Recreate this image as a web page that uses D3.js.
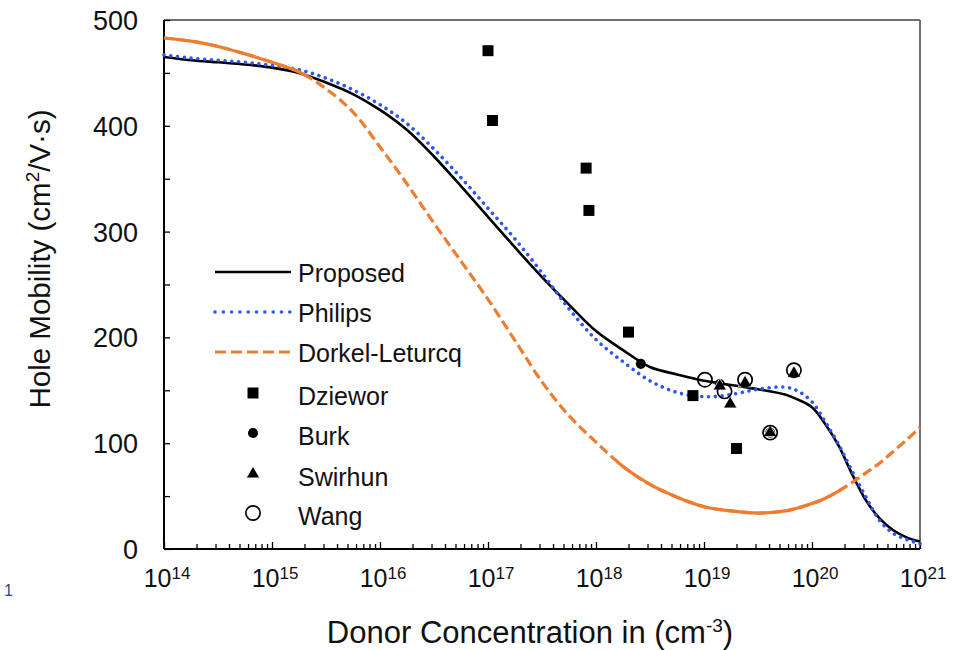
<!DOCTYPE html>
<html>
<head>
<meta charset="utf-8">
<script src="https://cdn.jsdelivr.net/npm/d3@7/dist/d3.min.js"></script>
<style>
  html, body { margin: 0; padding: 0; background: #fff; }
  svg { display: block; font-family: "Liberation Sans", Arial, Helvetica, sans-serif; }
</style>
</head>
<body>
<svg id="chart" width="953" height="650"></svg>
<script>
// ---------------- data ----------------
const concentration = [
  1e14, 1.78e14, 3.16e14, 5.62e14,
  1e15, 1.78e15, 3.16e15, 5.62e15,
  1e16, 1.78e16, 3.16e16, 5.62e16,
  1e17, 1.78e17, 3.16e17, 5.62e17,
  1e18, 1.78e18, 3.16e18, 5.62e18,
  1e19, 1.78e19, 3.16e19, 5.62e19, 7.5e19,
  1e20, 1.33e20, 1.78e20, 2.37e20, 3.16e20, 4.22e20, 5.62e20, 7.5e20, 1e21
];
const proposed = [
  465, 462, 460, 458,
  455, 450, 441, 430,
  415, 396, 371, 343,
  314, 285, 257, 231,
  206, 188, 172, 165,
  159, 155, 151, 146, 141,
  134, 118, 97, 70, 46, 29, 18, 11, 7
];
const philips = [
  467, 464, 462, 460,
  457, 453, 445, 434,
  420, 402, 378, 351,
  322, 293, 261, 227,
  198, 177, 159, 148,
  144, 146, 151, 153, 149,
  139, 120, 98, 73, 49, 27, 15, 9, 5
];
const dorkelLeturcq = [
  483, 480, 475, 468,
  460, 451, 435, 413,
  380, 345, 308, 272,
  236, 197, 158, 126,
  101, 78, 61, 49,
  40, 36, 34, 36, 39,
  43, 48, 55, 63, 72, 81, 92, 103, 115
];
const dziewor = [[1.0e17, 471], [1.1e17, 405], [8.1e17, 360], [8.6e17, 320], [2.0e18, 205], [7.9e18, 145], [2.0e19, 95]];
const burk = [[2.6e18, 175], [1.4e19, 156], [4.1e19, 110]];
const swirhun = [[1.4e19, 154], [1.75e19, 137], [2.4e19, 157], [4.1e19, 110], [6.8e19, 166]];
const wang = [[1.02e19, 160], [1.55e19, 149], [2.4e19, 160], [4.1e19, 110], [6.8e19, 169]];

const xTickExponents = [14, 15, 16, 17, 18, 19, 20, 21];
const yTickValues = [0, 100, 200, 300, 400, 500];
const lineSeriesNames = ["Proposed", "Philips", "Dorkel-Leturcq"];
const markerSeriesNames = ["Dziewor", "Burk", "Swirhun", "Wang"];
// ranges where the Excel-dashed orange line renders as solid
const dorkelSolidRanges = [[1e14, 2.1e15], [1.6e18, 2.0e20]];

// ---------------- layout ----------------
const svg = d3.select("#chart");
const pL = 164, pR = 920, pT = 20, pB = 549;
const x = d3.scaleLog().domain([1e14, 1e21]).range([pL, pR]);
const y = d3.scaleLinear().domain([0, 500]).range([pB, pT]);

const colBlack = "#000000", colBlue = "#2f55f4", colOrange = "#ed7d31";

svg.append("rect").attr("width", 953).attr("height", 650).attr("fill", "#fff");

// frame
svg.append("line").attr("x1", pL).attr("x2", pR).attr("y1", pT).attr("y2", pT)
  .attr("stroke", "#6f6f6f").attr("stroke-width", 2);
svg.append("line").attr("x1", pR).attr("x2", pR).attr("y1", pT).attr("y2", pB)
  .attr("stroke", "#6f6f6f").attr("stroke-width", 2);

// axes with inward ticks
const yAxis = d3.axisRight(y).tickValues(d3.range(0, 501, 50)).tickSize(6).tickFormat("");
const gy = svg.append("g").attr("transform", `translate(${pL},0)`).call(yAxis);
gy.select(".domain").attr("stroke", "#000").attr("stroke-width", 2).attr("d", `M0,${pT}V${pB}`);
gy.selectAll(".tick line").attr("stroke", "#000").attr("stroke-width", 1.3);

const minorTicks = [];
for (let e = 14; e < 21; e++) for (let m = 2; m <= 9; m++) minorTicks.push(m * Math.pow(10, e));
const majorTicks = xTickExponents.map(e => Math.pow(10, e));
const xAxisMinor = d3.axisTop(x).tickValues(minorTicks).tickSize(5).tickFormat("");
const gxm = svg.append("g").attr("transform", `translate(0,${pB})`).call(xAxisMinor);
gxm.select(".domain").remove();
gxm.selectAll(".tick line").attr("stroke", "#000").attr("stroke-width", 1.3);
const xAxisMajor = d3.axisTop(x).tickValues(majorTicks).tickSize(7).tickFormat("");
const gx = svg.append("g").attr("transform", `translate(0,${pB})`).call(xAxisMajor);
gx.select(".domain").attr("stroke", "#000").attr("stroke-width", 2).attr("d", `M${pL},0H${pR}`);
gx.selectAll(".tick line").attr("stroke", "#000").attr("stroke-width", 1.3);

// y tick labels
svg.append("g").selectAll("text").data(yTickValues).join("text")
  .attr("x", 138).attr("y", d => y(d) + 10)
  .attr("text-anchor", "end").attr("font-size", 27).attr("fill", "#111")
  .text(d => d);

// x tick labels 10^n
const xl = svg.append("g").selectAll("text").data(xTickExponents).join("text")
  .attr("x", d => x(Math.pow(10, d)) + 3).attr("y", 587)
  .attr("text-anchor", "middle").attr("fill", "#111");
xl.append("tspan").attr("font-size", 25).text("10");
xl.append("tspan").attr("font-size", 17).attr("dy", -8).text(d => d);

// axis titles
const xt = svg.append("text").attr("x", 530).attr("y", 643).attr("text-anchor", "middle")
  .attr("font-size", 31).attr("fill", "#111");
xt.append("tspan").text("Donor Concentration in (cm");
xt.append("tspan").attr("font-size", 19).attr("dy", -11).text("-3");
xt.append("tspan").attr("dy", 11).text(")");

const yt = svg.append("text").attr("transform", "translate(50,259) rotate(-90)")
  .attr("text-anchor", "middle").attr("font-size", 29.5).attr("fill", "#111");
yt.append("tspan").text("Hole Mobility (cm");
yt.append("tspan").attr("font-size", 19).attr("dy", -11).text("2");
yt.append("tspan").attr("dy", 11).text("/V·s)");

svg.append("text").attr("x", 4).attr("y", 596).attr("font-size", 16).attr("fill", "#2a4a8c").text("1");

// ---------------- lines ----------------
const line = d3.line().x(d => x(d[0])).y(d => y(d[1])).curve(d3.curveCatmullRom.alpha(0.5));
const zip = vals => concentration.map((c, i) => [c, vals[i]]);

svg.append("path").attr("d", line(zip(proposed))).attr("fill", "none")
  .attr("stroke", colBlack).attr("stroke-width", 2.6);

svg.append("path").attr("d", line(zip(philips))).attr("fill", "none")
  .attr("stroke", colBlue).attr("stroke-width", 3.6)
  .attr("stroke-linecap", "round").attr("stroke-dasharray", "0.01 6.8");

const defs = svg.append("defs");
const clip = defs.append("clipPath").attr("id", "dorkelSolid");
clip.selectAll("rect").data(dorkelSolidRanges).join("rect")
  .attr("x", d => x(d[0]) - 2).attr("y", 0)
  .attr("width", d => x(d[1]) - x(d[0]) + 2).attr("height", 650);

svg.append("path").attr("d", line(zip(dorkelLeturcq))).attr("fill", "none")
  .attr("stroke", colOrange).attr("stroke-width", 3.2).attr("stroke-dasharray", "10 4.5");
svg.append("path").attr("d", line(zip(dorkelLeturcq))).attr("fill", "none")
  .attr("stroke", colOrange).attr("stroke-width", 3.2).attr("clip-path", "url(#dorkelSolid)");

// ---------------- markers ----------------
const sym = (type, size) => d3.symbol().type(type).size(size)();
function styleMarker(sel, kind) {
  if (kind === "square") sel.attr("d", sym(d3.symbolSquare, 121)).attr("fill", "#000");
  if (kind === "dot") sel.attr("d", sym(d3.symbolCircle, 80)).attr("fill", "#000");
  if (kind === "tri") sel.attr("d", sym(d3.symbolTriangle, 80)).attr("fill", "#000")
    .attr("stroke", "#fff").attr("stroke-width", 0.8);
  if (kind === "ring") sel.attr("d", sym(d3.symbolCircle, 160)).attr("fill", "none")
    .attr("stroke", "#000").attr("stroke-width", 1.7);
}
function drawMarkers(data, kind) {
  const sel = svg.append("g").selectAll("path").data(data).join("path")
    .attr("transform", d => `translate(${x(d[0])},${y(d[1])})`);
  styleMarker(sel, kind);
}
drawMarkers(dziewor, "square");
drawMarkers(burk, "dot");
drawMarkers(swirhun, "tri");
drawMarkers(wang, "ring");

// ---------------- legend ----------------
const legLineY = [272, 312, 352];
const legMarkY = [393, 433, 474, 513];
const lg = svg.append("g");
const lineStyles = [
  {stroke: colBlack, w: 2.6, dash: null, cap: "butt"},
  {stroke: colBlue, w: 3.6, dash: "0.01 8.3", cap: "round"},
  {stroke: colOrange, w: 3.2, dash: "11 5", cap: "butt"}
];
lineSeriesNames.forEach((name, i) => {
  const s = lineStyles[i];
  lg.append("line").attr("x1", 215).attr("x2", 291).attr("y1", legLineY[i]).attr("y2", legLineY[i])
    .attr("stroke", s.stroke).attr("stroke-width", s.w).attr("stroke-linecap", s.cap)
    .attr("stroke-dasharray", s.dash);
  lg.append("text").attr("x", 298).attr("y", legLineY[i] + 10).attr("font-size", 25)
    .attr("fill", "#111").text(name);
});
const kinds = ["square", "dot", "tri", "ring"];
markerSeriesNames.forEach((name, i) => {
  const p = lg.append("path").attr("transform", `translate(253,${legMarkY[i]})`);
  styleMarker(p, kinds[i]);
  lg.append("text").attr("x", 298).attr("y", legMarkY[i] + 12).attr("font-size", 25)
    .attr("fill", "#111").text(name);
});
</script>
</body>
</html>
